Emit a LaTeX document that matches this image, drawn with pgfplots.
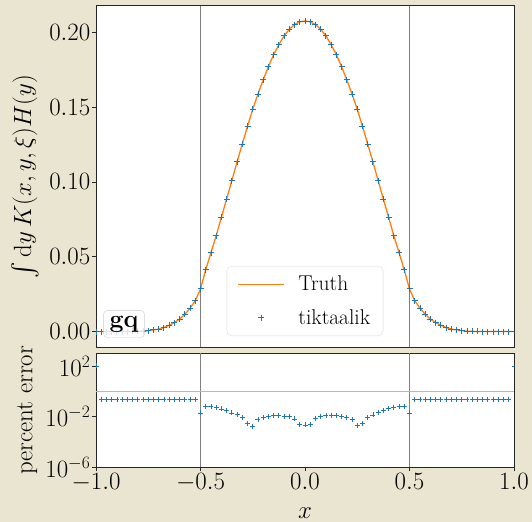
\RequirePackage{fix-cm}
\documentclass[border=0pt]{standalone}
\usepackage{fontspec}
\usepackage{exscale}
\usepackage{pgfplots}
\usepackage{pgfplotstable}
\pgfplotsset{compat=1.18}
\definecolor{bg}{RGB}{233,229,209}
\definecolor{cblue}{RGB}{31,119,180}
\definecolor{corange}{RGB}{255,127,14}

\pgfplotstableread{
x y e
-1.000 0.000000 100
-0.975 0.000001 0.226
-0.950 0.000002 0.226
-0.925 0.000004 0.226
-0.900 0.000008 0.226
-0.875 0.00002 0.226
-0.850 0.00004 0.226
-0.825 0.00008 0.226
-0.800 0.00016 0.226
-0.775 0.0003 0.226
-0.750 0.0006 0.226
-0.725 0.0011 0.226
-0.700 0.0017 0.226
-0.675 0.0027 0.226
-0.650 0.0042 0.226
-0.625 0.0060 0.226
-0.600 0.0083 0.226
-0.575 0.0116 0.226
-0.550 0.0156 0.226
-0.525 0.0207 0.226
-0.500 0.0285 0.0195
-0.475 0.0412 0.066
-0.450 0.0528 0.059
-0.425 0.0641 0.0525
-0.400 0.0764 0.0407
-0.375 0.0886 0.0302
-0.350 0.1009 0.0195
-0.325 0.1134 0.0145
-0.300 0.1254 0.0085
-0.275 0.1372 0.0028
-0.250 0.1486 0.0017
-0.225 0.1588 0.0059
-0.200 0.1682 0.0085
-0.175 0.1771 0.0107
-0.150 0.1851 0.012
-0.125 0.1918 0.012
-0.100 0.1976 0.0107
-0.075 0.2021 0.010
-0.050 0.2052 0.0066
-0.025 0.2070 0.0025
0.000 0.2076 0.0022
0.025 0.2070 0.0023
0.050 0.2052 0.0074
0.075 0.2021 0.0107
0.100 0.1976 0.012
0.125 0.1918 0.012
0.150 0.1851 0.012
0.175 0.1771 0.0107
0.200 0.1682 0.0085
0.225 0.1588 0.0059
0.250 0.1486 0.0019
0.275 0.1372 0.0027
0.300 0.1254 0.0085
0.325 0.1134 0.0135
0.350 0.1009 0.0224
0.375 0.0886 0.0324
0.400 0.0764 0.0468
0.425 0.0641 0.0525
0.450 0.0528 0.059
0.475 0.0412 0.059
0.500 0.0285 0.0195
0.525 0.0207 0.226
0.550 0.0156 0.226
0.575 0.0116 0.226
0.600 0.0083 0.226
0.625 0.0060 0.226
0.650 0.0042 0.226
0.675 0.0027 0.226
0.700 0.0017 0.226
0.725 0.0011 0.226
0.750 0.0006 0.226
0.775 0.0003 0.226
0.800 0.00016 0.226
0.825 0.00008 0.226
0.850 0.00004 0.226
0.875 0.00002 0.226
0.900 0.000008 0.226
0.925 0.000004 0.226
0.950 0.000002 0.226
0.975 0.000001 0.226
1.000 0.000000 100
}\data

\begin{document}
\begin{tikzpicture}[font=\fontsize{25}{30}\selectfont]
\useasboundingbox (0,0) rectangle (532bp,522bp);
\fill[bg] (0,0) rectangle (532bp,522bp);
\pgfplotsset{
  every axis/.append style={
    scale only axis, width=418bp, xmin=-1, xmax=1,
    axis background/.style={fill=white},
    axis line style={line width=1bp, black!85},
    tick align=outside, major tick length=4bp,
    every tick/.style={black!85, line width=0.8bp},
    ytick pos=left, xtick pos=bottom,
    clip marker paths=true,
    yticklabel style={inner sep=1.5bp},
    xticklabel style={inner sep=1.5bp},
    legend image code/.code={\draw[mark repeat=2,mark phase=2,##1] plot coordinates {(0bp,0bp) (23bp,0bp) (46bp,0bp)};\path[draw=none,fill=none] (46bp,0bp) -- (58bp,0bp);},
  }
}
\begin{axis}[
  at={(96bp,174.7bp)}, anchor=south west, height=341.6bp,
  ymin=-0.0105, ymax=0.2178,
  ytick={0,0.05,0.1,0.15,0.2},
  yticklabel style={/pgf/number format/fixed, /pgf/number format/fixed zerofill, /pgf/number format/precision=2},
  xtick=\empty,
  ylabel={$\int \mathrm{d}y\, K(x,y,\xi) H(y)$},
  ylabel style={at={(axis description cs:-0.17,0.5)}, anchor=center, inner sep=0pt},
  legend style={at={(0.5,0.033)}, anchor=south, font=\fontsize{21.5}{26}\selectfont,
    draw=black!15, fill=white, fill opacity=0.8, text opacity=1, rounded corners=5bp,
    inner xsep=11bp, inner ysep=8bp, row sep=13bp},
  legend cell align=left,
]
\draw[black!50, line width=0.8bp] (axis cs:-0.5,-0.0105) -- (axis cs:-0.5,0.2178);
\draw[black!50, line width=0.8bp] (axis cs:0.5,-0.0105) -- (axis cs:0.5,0.2178);
\addplot[corange, line width=1.3bp, no marks] table[x=x,y=y] {\data};
\addlegendentry{Truth}
\addplot[cblue, only marks, mark=+, mark size=3bp, mark options={cblue, line width=0.9bp}] table[x=x,y=y] {\data};
\addlegendentry{tiktaalik}
\node[draw=black!20, rounded corners=4bp, fill=white, fill opacity=0.8, text opacity=1, inner xsep=6bp, inner ysep=5.5bp] at (rel axis cs:0.067,0.068) {\textbf{gq}};
\end{axis}
\begin{axis}[
  at={(96bp,54.7bp)}, anchor=south west, height=114bp,
  ymode=log, ymin=1e-6, ymax=1e3,
  ytick={1e-6,1e-2,1e2}, yminorticks=false,
  xtick={-1,-0.5,0,0.5,1},
  xticklabel style={/pgf/number format/fixed, /pgf/number format/fixed zerofill, /pgf/number format/precision=1},
  xlabel={$x$},
  xlabel style={at={(axis description cs:0.5,0)}, anchor=center, yshift=-46bp, inner sep=0pt},
  ylabel={percent error},
  ylabel style={at={(axis description cs:-0.165,0.5)}, anchor=center, inner sep=0pt},
]
\draw[black!50, line width=0.8bp] (axis cs:-0.5,1e-6) -- (axis cs:-0.5,1e3);
\draw[black!50, line width=0.8bp] (axis cs:0.5,1e-6) -- (axis cs:0.5,1e3);
\draw[black!28, line width=1.2bp] (axis cs:-1,1) -- (axis cs:1,1);
\addplot[cblue, only marks, mark=+, mark size=2.5bp, mark options={cblue, line width=0.8bp}] table[x=x,y=e] {\data};
\end{axis}
\end{tikzpicture}
\end{document}
